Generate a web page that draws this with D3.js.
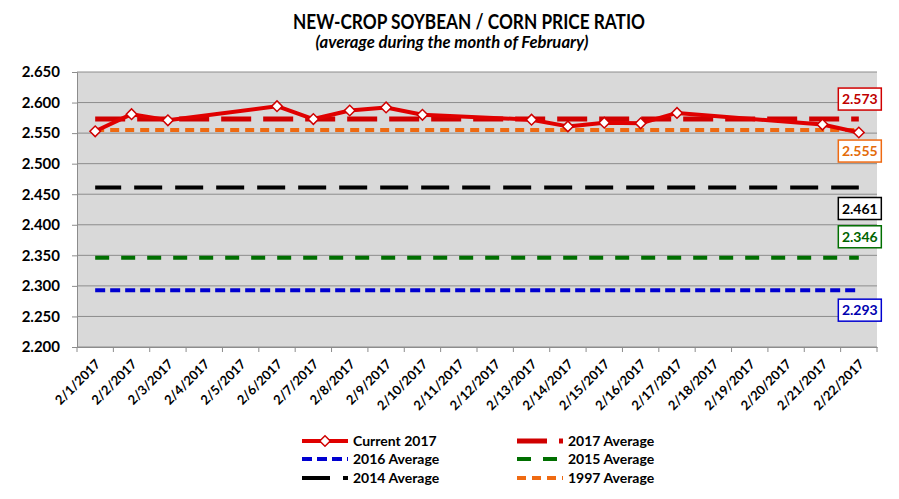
<!DOCTYPE html>
<html><head><meta charset="utf-8">
<script src="https://cdn.jsdelivr.net/npm/d3@7"></script>
<style>body{margin:0;background:#fff}svg{display:block}text{font-family:Lato,"Open Sans",sans-serif;font-weight:bold}</style>
</head><body>
<svg id="c" width="899" height="499"></svg>
<script>
const categories = ["2/1/2017","2/2/2017","2/3/2017","2/4/2017","2/5/2017","2/6/2017","2/7/2017","2/8/2017","2/9/2017","2/10/2017","2/11/2017","2/12/2017","2/13/2017","2/14/2017","2/15/2017","2/16/2017","2/17/2017","2/18/2017","2/19/2017","2/20/2017","2/21/2017","2/22/2017"];
const current2017 = [2.553,2.581,2.571,null,null,2.594,2.573,2.587,2.592,2.580,null,null,2.572,2.561,2.567,2.566,2.583,null,null,null,2.564,2.551];
const averageNames = ["2017 Average","1997 Average","2014 Average","2015 Average","2016 Average"];
const averageValues = [2.573,2.555,2.461,2.346,2.293];
const yTicks = [2.200,2.250,2.300,2.350,2.400,2.450,2.500,2.550,2.600,2.650];

const styles = {
  "2017 Average":{color:"#d00000",text:"#c00000",dash:"30,12",off:0,w:5,lab:-20},
  "1997 Average":{color:"#ef6a12",text:"#e46c0a",dash:"9,6",off:0,w:4,lab:21},
  "2014 Average":{color:"#000000",text:"#000000",dash:"28,13",off:2,w:4,lab:21},
  "2015 Average":{color:"#006f00",text:"#006400",dash:"14,12",off:0,w:4,lab:-21},
  "2016 Average":{color:"#0000d0",text:"#0000b0",dash:"10,5",off:0,w:4,lab:20}
};

const svg = d3.select("#c");
const L=77,R=877,T=72,B=347;
const x = d3.scaleBand().domain(categories).range([L,R]);
const y = d3.scaleLinear().domain([2.2,2.65]).range([B,T]);
const cx = c => x(c)+x.bandwidth()/2;

svg.append("rect").attr("x",L).attr("y",T).attr("width",R-L).attr("height",B-T).attr("fill","#d9d9d9");
svg.append("g").selectAll("line").data(yTicks).join("line")
  .attr("x1",L).attr("x2",R).attr("y1",d=>y(d)).attr("y2",d=>y(d))
  .attr("stroke","#8c8c8c").attr("stroke-width",1);

// y axis
const ya = svg.append("g").attr("transform",`translate(${L},0)`)
  .call(d3.axisLeft(y).tickValues(yTicks).tickFormat(d3.format(".3f")).tickSize(5).tickPadding(12));
ya.select(".domain").attr("stroke","#8c8c8c");
ya.selectAll(".tick line").attr("stroke","#8c8c8c");
ya.selectAll("text").attr("font-size",15).attr("fill","#000").style("font-family","Lato").style("font-weight","bold");

// x axis
const xa = svg.append("g").attr("transform",`translate(0,${B})`)
  .call(d3.axisBottom(x).tickSize(0).tickFormat(""));
xa.select(".domain").attr("stroke","#8c8c8c");
const bounds = categories.map(c=>x(c)).concat([R]);
svg.append("g").selectAll("line").data(bounds).join("line")
  .attr("x1",d=>d).attr("x2",d=>d).attr("y1",B).attr("y2",B+5).attr("stroke","#8c8c8c");
svg.append("g").selectAll("text").data(categories).join("text")
  .attr("transform",d=>`translate(${cx(d)+6},${B+18}) rotate(-45)`)
  .attr("text-anchor","end").attr("font-size",13).attr("fill","#000").text(d=>d);

// averages
const x0 = cx(categories[0]), x1 = cx(categories[categories.length-1]);
averageNames.forEach((n,i)=>{
  const s = styles[n];
  svg.append("line").attr("x1",x0).attr("x2",x1).attr("y1",y(averageValues[i])).attr("y2",y(averageValues[i]))
    .attr("stroke",s.color).attr("stroke-width",s.w).attr("stroke-dasharray",s.dash).attr("stroke-dashoffset",s.off);
});

// current line
const pts = categories.map((c,i)=>({c,v:current2017[i]})).filter(d=>d.v!=null);
svg.append("path").datum(pts)
  .attr("d",d3.line().x(d=>cx(d.c)).y(d=>y(d.v)))
  .attr("fill","none").attr("stroke","#e00000").attr("stroke-width",4).attr("stroke-linejoin","round");
const sym = d3.symbol().type(d3.symbolSquare).size(56);
svg.append("g").selectAll("path").data(pts).join("path")
  .attr("transform",d=>`translate(${cx(d.c)},${y(d.v)}) rotate(45)`)
  .attr("d",sym).attr("fill","#fff").attr("stroke","#d00000").attr("stroke-width",1.5);

// value labels
averageNames.forEach((n,i)=>{
  const s = styles[n];
  const ly = y(averageValues[i]) + s.lab;
  const g = svg.append("g").attr("transform",`translate(${x1+1},${ly})`);
  g.append("rect").attr("x",-21.5).attr("y",-11).attr("width",43).attr("height",22)
    .attr("fill","#fff").attr("stroke",s.color).attr("stroke-width",1.5);
  g.append("text").attr("text-anchor","middle").attr("dy","0.36em").attr("font-size",14)
    .attr("fill",s.text).text(d3.format(".3f")(averageValues[i]));
});

// title
svg.append("text").attr("x",469).attr("y",29).attr("text-anchor","middle").attr("font-size",21)
  .attr("textLength",352).attr("lengthAdjust","spacingAndGlyphs").text("NEW-CROP SOYBEAN / CORN PRICE RATIO");
svg.append("text").attr("x",452).attr("y",48).attr("text-anchor","middle").attr("font-size",17)
  .attr("font-style","italic").attr("textLength",273).attr("lengthAdjust","spacingAndGlyphs")
  .text("(average during the month of February)");

// legend
const legend = [
  {name:"Current 2017",col:0,row:0,cur:true},
  {name:"2017 Average",col:1,row:0},
  {name:"2016 Average",col:0,row:1},
  {name:"2015 Average",col:1,row:1},
  {name:"2014 Average",col:0,row:2},
  {name:"1997 Average",col:1,row:2}
];
const lx=[302,517], ly=[441,459,478];
legend.forEach(e=>{
  const X=lx[e.col], Y=ly[e.row];
  if(e.cur){
    svg.append("line").attr("x1",X).attr("x2",X+46).attr("y1",Y).attr("y2",Y).attr("stroke","#e00000").attr("stroke-width",4);
    svg.append("path").attr("transform",`translate(${X+23},${Y}) rotate(45)`).attr("d",sym).attr("fill","#fff").attr("stroke","#d00000").attr("stroke-width",1.5);
  } else {
    const s=styles[e.name];
    svg.append("line").attr("x1",X).attr("x2",X+46).attr("y1",Y).attr("y2",Y).attr("stroke",s.color)
      .attr("stroke-width",s.w).attr("stroke-dasharray",s.dash);
  }
  svg.append("text").attr("x",X+51).attr("y",Y).attr("dy","0.36em").attr("font-size",14).attr("fill","#000").text(e.name);
});
</script>
</body></html>
